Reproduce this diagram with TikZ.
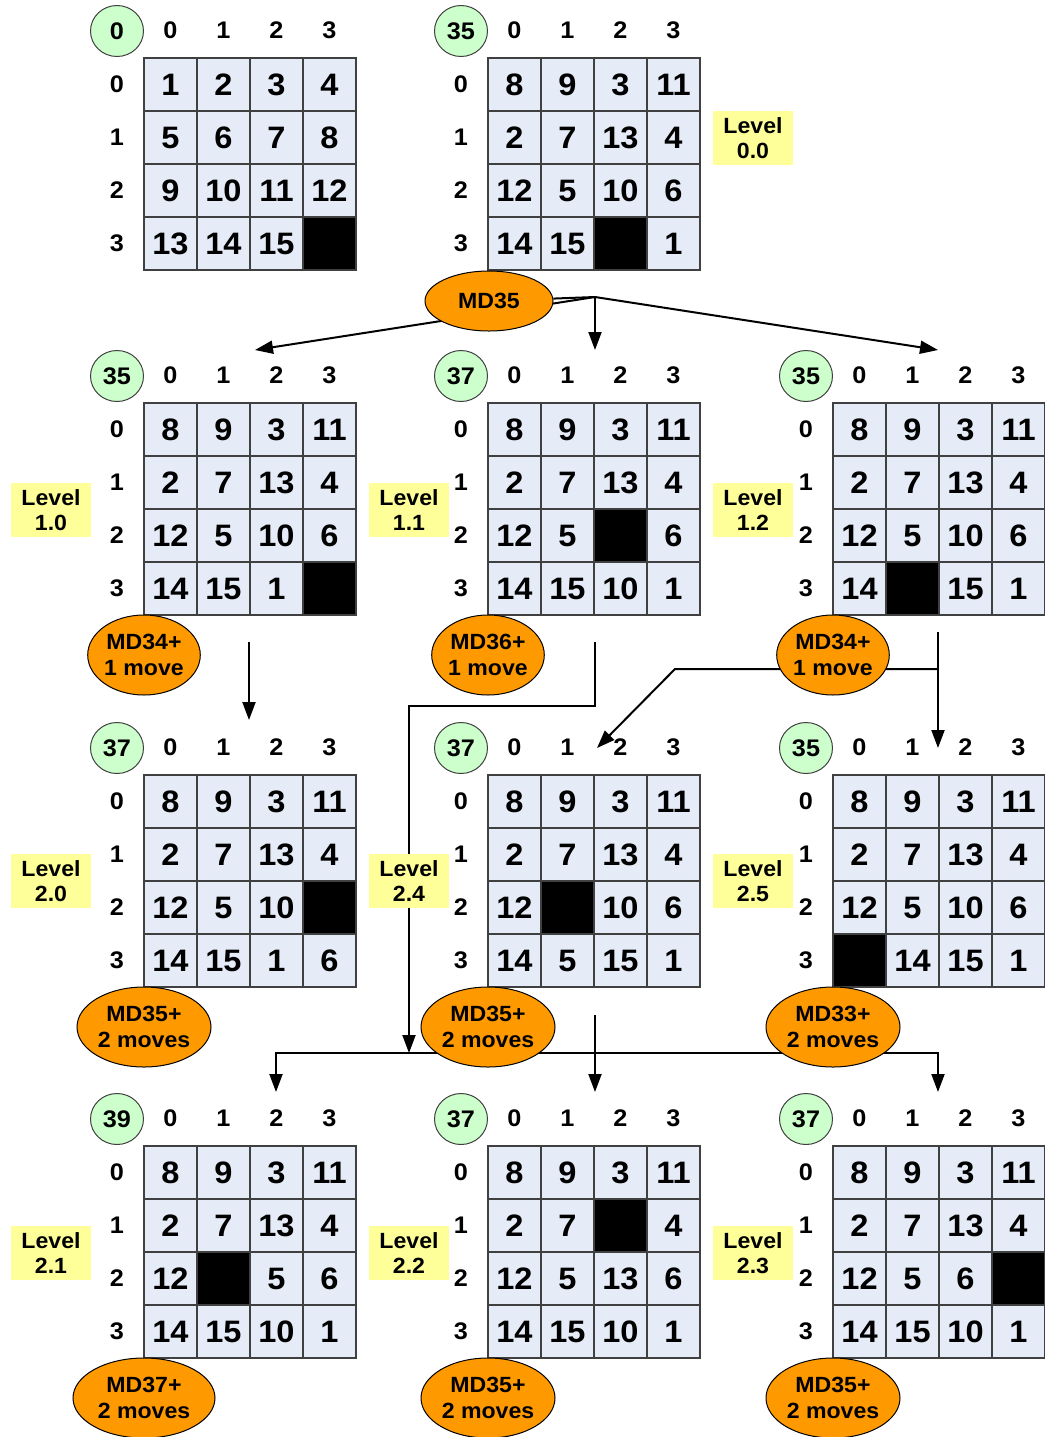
\documentclass[tikz,border=0pt]{standalone}
\usepackage{fontspec}
\setmainfont[FakeStretch=1.05]{Liberation Sans}
\usetikzlibrary{shapes.geometric,arrows.meta,calc}
\definecolor{cellbg}{HTML}{E6ECF7}
\definecolor{cellline}{HTML}{404040}
\definecolor{mint}{HTML}{CCFFCC}
\definecolor{lvl}{HTML}{FFFF99}
\definecolor{orng}{HTML}{FF9900}
\pgfdeclarelayer{bg}
\pgfsetlayers{bg,main}
\tikzset{
  cell/.style={rectangle,draw=cellline,line width=0.6pt,fill=cellbg,minimum size=26.5pt,inner sep=0pt,
    font=\bfseries\fontsize{15.5}{17}\selectfont},
  hdr/.style={inner sep=0pt,font=\bfseries\fontsize{12}{14}\selectfont},
  numcirc/.style={ellipse,draw=cellline,line width=0.5pt,fill=mint,minimum width=26.5pt,minimum height=25.5pt,inner sep=0pt,
    font=\bfseries\fontsize{12}{14}\selectfont},
  lvlbox/.style={rectangle,fill=lvl,minimum width=40pt,minimum height=27pt,inner sep=0pt,align=center,
    font=\bfseries\fontsize{11}{12.5}\selectfont},
  md/.style={ellipse,draw=black,line width=0.5pt,fill=orng,inner sep=0pt,align=center,
    font=\bfseries\fontsize{11}{13}\selectfont},
  conn/.style={line width=1pt,black},
  arr/.style={conn,-{Triangle[length=9pt,width=6.5pt]}},
}
\newcommand\puzzle[5]{%
  \node[numcirc] (#1-m) at ({#2-27},{#3-27}) {#4};
  \foreach \c in {0,...,3} {
    \node[hdr] (#1-h\c) at ({#2+26.5+53*\c},{#3-28}) {\c};
    \node[hdr] (#1-r\c) at ({#2-27},{#3+26.5+53*\c}) {\c};
  }
  \foreach \v [count=\i from 0] in {#5} {
    \pgfmathtruncatemacro\rr{\i/4}
    \pgfmathtruncatemacro\cc{\i-4*\rr}
    \ifnum\v=0
      \node[cell,fill=black] (#1-\rr-\cc) at ({#2+26.5+53*\cc},{#3+26.5+53*\rr}) {};
    \else
      \node[cell] (#1-\rr-\cc) at ({#2+26.5+53*\cc},{#3+26.5+53*\rr}) {\v};
    \fi
  }
}
\begin{document}
\begin{tikzpicture}[x=0.5pt,y=-0.5pt]
\useasboundingbox (0,0) rectangle (1045,1437);
% puzzles
\puzzle{A}{144}{58}{0}{1,2,3,4,5,6,7,8,9,10,11,12,13,14,15,0}
\puzzle{B}{488}{58}{35}{8,9,3,11,2,7,13,4,12,5,10,6,14,15,0,1}
\puzzle{C}{144}{403}{35}{8,9,3,11,2,7,13,4,12,5,10,6,14,15,1,0}
\puzzle{D}{488}{403}{37}{8,9,3,11,2,7,13,4,12,5,0,6,14,15,10,1}
\puzzle{E}{833}{403}{35}{8,9,3,11,2,7,13,4,12,5,10,6,14,0,15,1}
\puzzle{F}{144}{775}{37}{8,9,3,11,2,7,13,4,12,5,10,0,14,15,1,6}
\puzzle{G}{488}{775}{37}{8,9,3,11,2,7,13,4,12,0,10,6,14,5,15,1}
\puzzle{H}{833}{775}{35}{8,9,3,11,2,7,13,4,12,5,10,6,0,14,15,1}
\puzzle{I}{144}{1146}{39}{8,9,3,11,2,7,13,4,12,0,5,6,14,15,10,1}
\puzzle{J}{488}{1146}{37}{8,9,3,11,2,7,0,4,12,5,13,6,14,15,10,1}
\puzzle{K}{833}{1146}{37}{8,9,3,11,2,7,13,4,12,5,6,0,14,15,10,1}
% level boxes
\node[lvlbox] (L00) at (753,138) {Level\\0.0};
\node[lvlbox] (L10) at (51,510) {Level\\1.0};
\node[lvlbox] (L11) at (409,510) {Level\\1.1};
\node[lvlbox] (L12) at (753,510) {Level\\1.2};
\node[lvlbox] (L20) at (51,881) {Level\\2.0};
\node[lvlbox] (L24) at (409,881) {Level\\2.4};
\node[lvlbox] (L25) at (753,881) {Level\\2.5};
\node[lvlbox] (L21) at (51,1253) {Level\\2.1};
\node[lvlbox] (L22) at (409,1253) {Level\\2.2};
\node[lvlbox] (L23) at (753,1253) {Level\\2.3};
% heuristic ellipses
\node[md,minimum width=64pt,minimum height=30pt] (M00) at (489,301) {MD35};
\node[md,minimum width=53.5pt,minimum height=40pt] (M10) at (144,655) {MD34+\\1 move};
\node[md,minimum width=53.5pt,minimum height=40pt] (M11) at (488,655) {MD36+\\1 move};
\node[md,minimum width=53.5pt,minimum height=40pt] (M12) at (833,655) {MD34+\\1 move};
\node[md,minimum width=67pt,minimum height=40pt] (M20) at (144,1027) {MD35+\\2 moves};
\node[md,minimum width=67pt,minimum height=40pt] (M24) at (488,1027) {MD35+\\2 moves};
\node[md,minimum width=67pt,minimum height=40pt] (M25) at (833,1027) {MD33+\\2 moves};
\node[md,minimum width=71pt,minimum height=40pt] (M21) at (144,1398) {MD37+\\2 moves};
\node[md,minimum width=67pt,minimum height=40pt] (M22) at (488,1398) {MD35+\\2 moves};
\node[md,minimum width=67pt,minimum height=40pt] (M23) at (833,1398) {MD35+\\2 moves};
% connector points
\coordinate (j0) at (595,297);
\coordinate (t10) at (255,350);
\coordinate (t11) at (595,350);
\coordinate (t12) at (938,350);
\coordinate (a1) at (249,642);
\coordinate (a1t) at (249,720);
\coordinate (b1) at (595,642);
\coordinate (b2) at (595,706);
\coordinate (b3) at (409,706);
\coordinate (b4) at (409,1053);
\coordinate (c1) at (938,632);
\coordinate (c1t) at (938,748);
\coordinate (c2) at (938,669);
\coordinate (c3) at (675,669);
\coordinate (c3t) at (597,748);
\coordinate (d1) at (276,1053);
\coordinate (d1t) at (276,1092);
\coordinate (d2) at (938,1053);
\coordinate (d2t) at (938,1092);
\coordinate (e1) at (595,1015);
\coordinate (e1t) at (595,1092);
\begin{pgfonlayer}{bg}
  \draw[conn] (M00) -- (j0);
  \draw[arr] (j0) -- (t10);
  \draw[arr] (j0) -- (t11);
  \draw[arr] (j0) -- (t12);
  \draw[arr] (a1) -- (a1t);
  \draw[arr] (b1) -- (b2) -- (b3) -- (b4);
  \draw[arr] (c1) -- (c1t);
  \draw[arr] (c2) -- (c3) -- (c3t);
  \draw[conn,{Triangle[length=9pt,width=6.5pt]}-{Triangle[length=9pt,width=6.5pt]}] (d1t) -- (d1) -- (d2) -- (d2t);
  \draw[arr] (e1) -- (e1t);
\end{pgfonlayer}
\end{tikzpicture}
\end{document}
